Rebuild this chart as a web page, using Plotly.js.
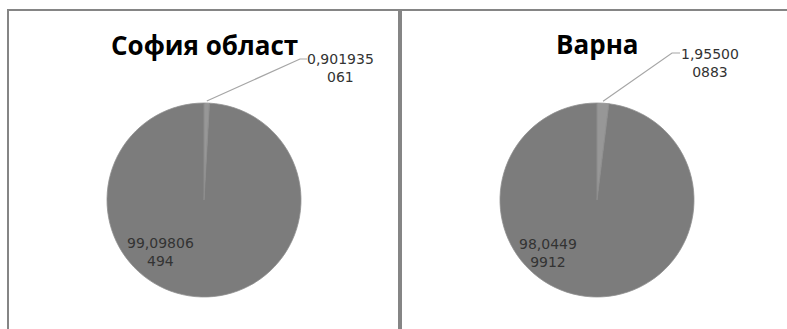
<!DOCTYPE html>
<html>
<head>
<meta charset="utf-8">
<script src="https://cdn.plot.ly/plotly-3.0.1.min.js"></script>
<style>html,body{margin:0;padding:0;background:#fff;}#chart{width:787px;height:329px;}</style>
</head>
<body>
<div id="chart"></div>
<script>
// Data
const regions = ["София област", "Варна"];
const sliceNames = ["дял", "останали"];
const sofiaValues = [0.901935061, 99.09806494];
const varnaValues = [1.955000883, 98.04499912];
// how many characters fit on the first line of each wrapped label (Excel-style wrap)
const sofiaWrap = [8, 8];
const varnaWrap = [7, 7];

const W = 787, H = 329;
const px = x => x / W;
const py = y => (H - y) / H;

// layout geometry per panel (pixels)
const panels = [
  {name: regions[0], values: sofiaValues, wrap: sofiaWrap, cx: 204, cy: 200, r: 97,
   titleY: 45, smallLbl: {x: 340, y: 68, elbow: [300, 59], end: [307, 59]},
   bigLbl: {x: 160, y: 252}},
  {name: regions[1], values: varnaValues, wrap: varnaWrap, cx: 597, cy: 200, r: 97,
   titleY: 44, smallLbl: {x: 710, y: 63, elbow: [672, 53], end: [680, 53]},
   bigLbl: {x: 548, y: 253}}
];

function fmt(v, n) {
  const s = String(v).replace('.', ',');
  return s.length > n ? s.slice(0, n) + '<br>' + s.slice(n) : s;
}

const traces = [];
const annotations = [];
const shapes = [];

panels.forEach(p => {
  traces.push({
    type: 'pie',
    labels: sliceNames,
    values: p.values,
    sort: false,
    direction: 'clockwise',
    rotation: 0,
    textinfo: 'none',
    hoverinfo: 'label+value',
    marker: {colors: ['#979797', '#7c7c7c'], line: {color: '#8f8f8f', width: 0.8}},
    domain: {x: [px(p.cx - p.r), px(p.cx + p.r)], y: [py(p.cy + p.r), py(p.cy - p.r)]},
    showlegend: false
  });
  annotations.push({
    text: '<b>' + p.name + '</b>', xref: 'paper', yref: 'paper',
    x: px(p.cx), y: py(p.titleY), xanchor: 'center', yanchor: 'middle', showarrow: false,
    font: {family: 'Open Sans, sans-serif', size: 26, color: '#000'}
  });
  const total = p.values.reduce((a, b) => a + b, 0);
  annotations.push({
    text: fmt(p.values[0], p.wrap[0]), xref: 'paper', yref: 'paper',
    x: px(p.smallLbl.x), y: py(p.smallLbl.y), xanchor: 'center', yanchor: 'middle',
    showarrow: false, align: 'center',
    font: {family: 'DejaVu Sans, sans-serif', size: 14, color: '#333'}
  });
  annotations.push({
    text: fmt(p.values[1], p.wrap[1]), xref: 'paper', yref: 'paper',
    x: px(p.bigLbl.x), y: py(p.bigLbl.y), xanchor: 'center', yanchor: 'middle',
    showarrow: false, align: 'center',
    font: {family: 'DejaVu Sans, sans-serif', size: 14, color: '#333'}
  });
  // leader line from the middle of the small slice
  const ang = (p.values[0] / 2) / total * 2 * Math.PI;
  const ax = p.cx + (p.r + 2) * Math.sin(ang);
  const ay = p.cy - (p.r + 2) * Math.cos(ang);
  shapes.push({
    type: 'path', xref: 'paper', yref: 'paper',
    path: `M ${px(ax)} ${py(ay)} L ${px(p.smallLbl.elbow[0])} ${py(p.smallLbl.elbow[1])} L ${px(p.smallLbl.end[0])} ${py(p.smallLbl.end[1])}`,
    line: {color: '#a6a6a6', width: 1.2}
  });
});

// panel frames
const frame = {color: '#858585', width: 2};
shapes.push({type: 'line', xref: 'paper', yref: 'paper', x0: px(7), x1: px(787), y0: py(10), y1: py(10), line: frame});
shapes.push({type: 'line', xref: 'paper', yref: 'paper', x0: px(8), x1: px(8), y0: py(10), y1: py(329), line: frame});
shapes.push({type: 'line', xref: 'paper', yref: 'paper', x0: px(400), x1: px(400), y0: py(10), y1: py(329), line: {color: '#858585', width: 4}});

Plotly.newPlot('chart', traces, {
  width: W, height: H,
  margin: {l: 0, r: 0, t: 0, b: 0},
  paper_bgcolor: '#fff',
  annotations: annotations,
  shapes: shapes
}, {displayModeBar: false, staticPlot: true});
</script>
</body>
</html>
